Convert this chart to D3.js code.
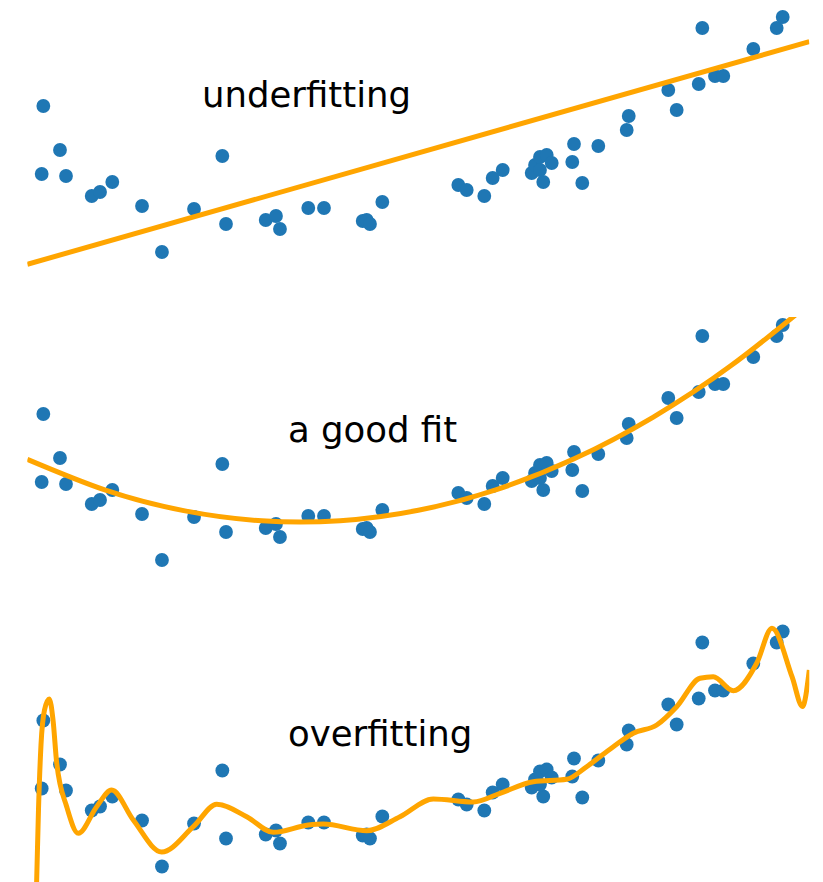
<!DOCTYPE html>
<html>
<head>
<meta charset="utf-8">
<script src="https://cdn.jsdelivr.net/npm/d3@7"></script>
<style>
  html, body { margin: 0; padding: 0; background: #ffffff; }
  svg { display: block; }
</style>
</head>
<body>
<svg id="chart" width="823" height="882"></svg>
<script>
// Observed samples (same set drawn in each panel)
const sampleX = [0.0205, 0.0418, 0.0184, 0.0495, 0.0824, 0.0930, 0.1087, 0.1467, 0.1722, 0.2132,
                 0.2494, 0.2541, 0.3049, 0.3180, 0.3231, 0.3593, 0.3794, 0.4289, 0.4340, 0.4382,
                 0.4540, 0.5512, 0.5619, 0.5844, 0.5951, 0.6079, 0.6450, 0.6493, 0.6556, 0.6642,
                 0.6706, 0.6598, 0.6556, 0.6969, 0.6991, 0.7097, 0.7302, 0.7665, 0.7691, 0.8197,
                 0.8304, 0.8586, 0.8632, 0.8794, 0.8900, 0.9284, 0.9583, 0.9660];
const sampleY = [1.64, 1.20, 0.96, 0.94, 0.74, 0.78, 0.88, 0.64, 0.18, 0.61,
                 1.14, 0.46, 0.50, 0.54, 0.41, 0.62, 0.62, 0.49, 0.50, 0.46,
                 0.68, 0.85, 0.80, 0.74, 0.92, 1.00, 0.97, 1.05, 1.13, 1.15,
                 1.07, 0.88, 1.00, 1.08, 1.26, 0.87, 1.24, 1.40, 1.54, 1.80,
                 1.60, 1.86, 2.42, 1.94, 1.94, 2.21, 2.42, 2.53];

// Degree-1 fit
const linearFitX = [0, 1];
const linearFitY = [0.057, 2.283];

// Degree-2 fit
const quadFitX = [0, 0.1, 0.2, 0.3, 0.4, 0.5, 0.6, 0.7, 0.8, 0.9, 1.0];
const quadFitY = [1.187, 0.879, 0.674, 0.572, 0.573, 0.677, 0.884, 1.194, 1.607, 2.124, 2.743];

// High-degree fit
const overFitX = [0, 0.0120, 0.0143, 0.0175, 0.0220, 0.0281, 0.0329, 0.0376, 0.0504, 0.0652,
                  0.0887, 0.1079, 0.1355, 0.1719, 0.2123, 0.2422, 0.2806, 0.3146, 0.3593, 0.3785,
                  0.4340, 0.4766, 0.5192, 0.5703, 0.6045, 0.6471, 0.6898, 0.7153, 0.7494, 0.7749,
                  0.8049, 0.8304, 0.8602, 0.8772, 0.9028, 0.9327, 0.9523, 0.9779, 0.9913, 1.0];
const overFitY = [-2.16, 0.045, 0.745, 1.395, 1.745, 1.855, 1.645, 1.215, 0.778, 0.512,
                  0.778, 0.945, 0.645, 0.325, 0.578, 0.802, 0.678, 0.522, 0.595, 0.605,
                  0.538, 0.678, 0.855, 0.825, 0.912, 1.028, 1.052, 1.178, 1.378, 1.512,
                  1.595, 1.778, 2.062, 2.078, 1.938, 2.212, 2.562, 2.078, 1.780, 2.145];

const panelTitles = ["underfitting", "a good fit", "overfitting"];

const svg = d3.select("#chart");

const x = d3.scaleLinear().domain([0, 1]).range([27.3, 809.3]);
const y = d3.scaleLinear().domain([0, 2.7]).range([270, 0]);

const points = sampleX.map((v, i) => ({ x: v, y: sampleY[i] }));
const toPts = (xs, ys) => xs.map((v, i) => ({ x: v, y: ys[i] }));

const panels = [
  { title: panelTitles[0], fit: toPts(linearFitX, linearFitY), curve: d3.curveLinear,
    offset: 0, label: [0.2234, 1.627] },
  { title: panelTitles[1], fit: toPts(quadFitX, quadFitY), curve: d3.curveNatural,
    offset: 308, label: [0.3334, 1.363] },
  { title: panelTitles[2], fit: toPts(overFitX, overFitY), curve: d3.curveMonotoneX,
    offset: 614.5, label: [0.3334, 1.385] }
];

// Axes area shared by every panel (local coordinates)
const clipTop = y(2.61), clipBottom = y(0.025);
svg.append("defs").append("clipPath").attr("id", "axesClip")
  .append("rect")
  .attr("x", x(0)).attr("y", clipTop)
  .attr("width", x(1) - x(0)).attr("height", clipBottom - clipTop);

panels.forEach(p => {
  const g = svg.append("g").attr("transform", `translate(0,${p.offset})`);

  g.append("text")
    .attr("x", x(p.label[0]))
    .attr("y", y(p.label[1]))
    .attr("font-family", "DejaVu Sans, sans-serif")
    .attr("font-size", 35.5)
    .attr("fill", "#000000")
    .text(p.title);

  g.append("g")
    .selectAll("circle")
    .data(points)
    .join("circle")
    .attr("cx", d => x(d.x))
    .attr("cy", d => y(d.y))
    .attr("r", 6.9)
    .attr("fill", "#1f77b4");

  const line = d3.line().x(d => x(d.x)).y(d => y(d.y)).curve(p.curve);
  g.append("path")
    .datum(p.fit)
    .attr("clip-path", "url(#axesClip)")
    .attr("d", line)
    .attr("fill", "none")
    .attr("stroke", "#ffa500")
    .attr("stroke-width", 5)
    .attr("stroke-linejoin", "round");
});
</script>
</body>
</html>
